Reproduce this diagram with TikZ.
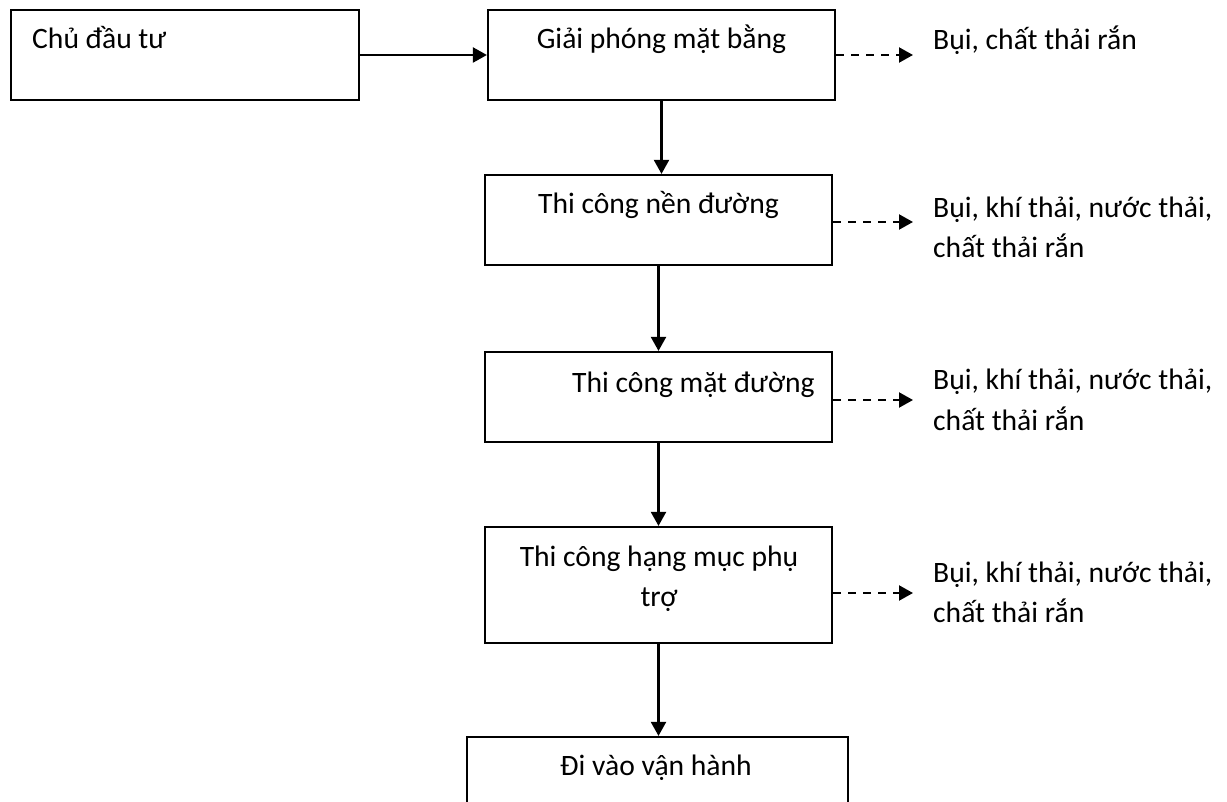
\documentclass[tikz,border=0pt]{standalone}
\usepackage{fontspec}
\setmainfont{Carlito}
\usetikzlibrary{arrows.meta}

\tikzset{
  box/.style={draw, line width=2.2pt, rectangle, inner sep=0pt},
  lbl/.style={font=\fontsize{29.6}{40}\selectfont, inner sep=0pt},
  flow/.style={line width=2.2pt, -{Triangle[length=14pt,width=15pt]}},
  emit/.style={flow, dash pattern=on 8pt off 7pt},
}

\begin{document}
\begin{tikzpicture}[x=1pt,y=-1pt]
\clip (0,0) rectangle (1227,802);

% boxes
\node[box, minimum width=348pt, minimum height=90pt] (b1) at (185,55) {};
\node[box, minimum width=347pt, minimum height=90pt] (b2) at (661.5,55) {};
\node[box, minimum width=347pt, minimum height=90pt] (b3) at (658.5,220) {};
\node[box, minimum width=347pt, minimum height=90pt] (b4) at (658.5,397) {};
\node[box, minimum width=347pt, minimum height=116pt] (b5) at (658.5,585) {};
\node[box, minimum width=381pt, minimum height=106pt] (b6) at (657.5,790) {};

% texts in the boxes (base of a two-line node = last line)
\node[lbl, anchor=base west] (t1) at (32,49) {Chủ đầu tư};
\node[lbl, anchor=base] (t2) at (661.5,49) {Giải phóng mặt bằng};
\node[lbl, anchor=base] (t3) at (658.5,214) {Thi công nền đường};
\node[lbl, anchor=base west] (t4) at (572,392) {Thi công mặt đường};
\node[lbl, anchor=base, align=center] (t5) at (659,606) {Thi công hạng mục phụ\\ trợ};
\node[lbl, anchor=base] (t6) at (656,775) {Đi vào vận hành};

% emissions
\node[lbl, anchor=base west] (r2) at (933,50) {Bụi, chất thải rắn};
\node[lbl, anchor=base west, align=left] (r3) at (933,258) {Bụi, khí thải, nước thải,\\chất thải rắn};
\node[lbl, anchor=base west, align=left] (r4) at (933,430) {Bụi, khí thải, nước thải,\\chất thải rắn};
\node[lbl, anchor=base west, align=left] (r5) at (933,622) {Bụi, khí thải, nước thải,\\chất thải rắn};

\coordinate (e2) at (913,55);
\coordinate (e3) at (913,222);
\coordinate (e4) at (913,400);
\coordinate (e5) at (913,593);

% arrows
\draw[flow] (b1.east) -- (b2.west);
\draw[flow] (b2.south) -- (b2.south |- b3.north);
\draw[flow] (b3.south) -- (b4.north);
\draw[flow] (b4.south) -- (b5.north);
\draw[flow] (b5.south) -- (b5.south |- b6.north);

\draw[emit] (b2.east |- e2) -- (e2);
\draw[emit] (b3.east |- e3) -- (e3);
\draw[emit] (b4.east |- e4) -- (e4);
\draw[emit] (b5.east |- e5) -- (e5);
\end{tikzpicture}
\end{document}
